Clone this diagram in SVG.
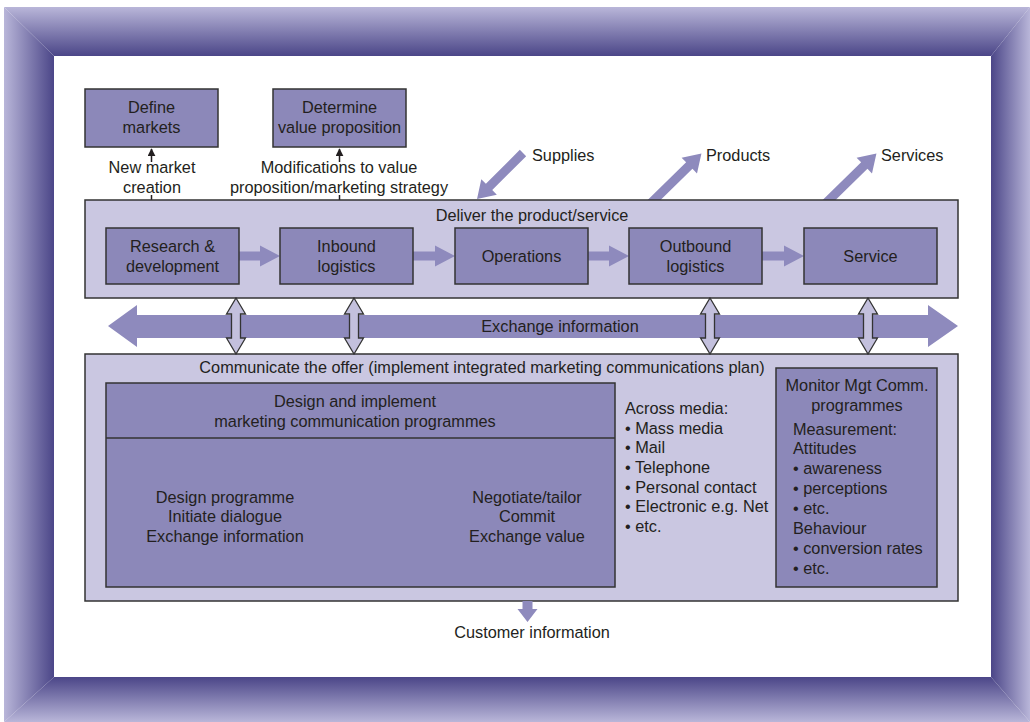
<svg xmlns="http://www.w3.org/2000/svg" width="1030" height="722" viewBox="0 0 1030 722">
<defs>
<linearGradient id="gTop" gradientUnits="userSpaceOnUse" x1="0" y1="7" x2="0" y2="56"><stop offset="0" stop-color="#b9b6d9"/><stop offset="1" stop-color="#4b4688"/></linearGradient>
<linearGradient id="gBot" gradientUnits="userSpaceOnUse" x1="0" y1="722" x2="0" y2="677"><stop offset="0" stop-color="#b9b6d9"/><stop offset="1" stop-color="#4b4688"/></linearGradient>
<linearGradient id="gLeft" gradientUnits="userSpaceOnUse" x1="4" y1="0" x2="54" y2="0"><stop offset="0" stop-color="#b9b6d9"/><stop offset="1" stop-color="#4b4688"/></linearGradient>
<linearGradient id="gRight" gradientUnits="userSpaceOnUse" x1="1030" y1="0" x2="991" y2="0"><stop offset="0" stop-color="#b9b6d9"/><stop offset="1" stop-color="#4b4688"/></linearGradient>
<marker id="ah" viewBox="0 0 10 10" refX="9" refY="5" markerWidth="8" markerHeight="8" markerUnits="userSpaceOnUse" orient="auto"><path d="M0,0 L10,5 L0,10 Z" fill="#231f20"/></marker>
</defs>
<style>
text{font-family:"Liberation Sans",Arial,sans-serif;font-size:16.3px;fill:#231f20}
.c{text-anchor:middle}
.box{fill:#8c88b9;stroke:#333;stroke-width:1.5}
.cont{fill:#cac7e1;stroke:#333;stroke-width:1.5}
.fa{fill:#8e8abd}
.va{fill:#c3c0dd;stroke:#333;stroke-width:1.3}
.ln{stroke:#231f20;stroke-width:1.5;fill:none}
</style>
<g id="frame">
<rect x="0" y="0" width="1030" height="722" fill="#fff"/>
<polygon points="4,7 1030,7 991,56 54,56" fill="url(#gTop)"/>
<polygon points="4,722 54,677 991,677 1030,722" fill="url(#gBot)"/>
<polygon points="4,7 54,56 54,677 4,722" fill="url(#gLeft)"/>
<polygon points="1030,7 1030,722 991,677 991,56" fill="url(#gRight)"/>
</g>
<g id="connectors">
<line class="ln" x1="151.5" y1="162" x2="151.5" y2="149" marker-end="url(#ah)"/>
<line class="ln" x1="151.5" y1="195" x2="151.5" y2="200"/>
<line class="ln" x1="339.5" y1="162" x2="339.5" y2="149" marker-end="url(#ah)"/>
<line class="ln" x1="339.5" y1="195" x2="339.5" y2="200"/>
<path class="fa" d="M0,-4.5 H48 V-11 L65,0 L48,11 V4.5 H0 Z" transform="translate(523,153) rotate(135)"/>
<path class="fa" d="M0,-4.5 H55 V-11 L72,0 L55,11 V4.5 H0 Z" transform="translate(650,204) rotate(-44.4)"/>
<path class="fa" d="M0,-4.5 H55 V-11 L72,0 L55,11 V4.5 H0 Z" transform="translate(825,204) rotate(-44.4)"/>
</g>
<g id="deliver">
<rect class="cont" x="85" y="200" width="873" height="98"/>
<text class="c" x="532" y="221">Deliver the product/service</text>
</g>
<g id="define-markets">
<rect class="box" x="85" y="89" width="133" height="58"/>
<text class="c" x="151.5" y="113">Define</text>
<text class="c" x="151.5" y="133">markets</text>
</g>
<g id="value-proposition">
<rect class="box" x="273" y="89" width="133" height="58"/>
<text class="c" x="339.5" y="113">Determine</text>
<text class="c" x="339.5" y="133">value proposition</text>
</g>
<g id="labels-top">
<text class="c" x="152" y="173">New market</text>
<text class="c" x="152" y="193">creation</text>
<text class="c" x="339" y="173">Modifications to value</text>
<text class="c" x="339" y="193">proposition/marketing strategy</text>
<text x="532" y="161">Supplies</text>
<text x="706" y="161">Products</text>
<text x="881" y="161">Services</text>
</g>
<g id="process-arrows">
<path class="fa" d="M0,-4.5 H21 V-10.5 L41,0 L21,10.5 V4.5 H0 Z" transform="translate(239,256)"/>
<path class="fa" d="M0,-4.5 H22 V-10.5 L42,0 L22,10.5 V4.5 H0 Z" transform="translate(413,256)"/>
<path class="fa" d="M0,-4.5 H21 V-10.5 L41,0 L21,10.5 V4.5 H0 Z" transform="translate(588,256)"/>
<path class="fa" d="M0,-4.5 H22 V-10.5 L42,0 L22,10.5 V4.5 H0 Z" transform="translate(762,256)"/>
</g>
<g id="research">
<rect class="box" x="106" y="228" width="133" height="56"/>
<text class="c" x="172.5" y="252">Research &amp;</text>
<text class="c" x="172.5" y="272">development</text>
</g>
<g id="inbound">
<rect class="box" x="280" y="228" width="133" height="56"/>
<text class="c" x="346.5" y="252">Inbound</text>
<text class="c" x="346.5" y="272">logistics</text>
</g>
<g id="operations">
<rect class="box" x="455" y="228" width="133" height="56"/>
<text class="c" x="521.5" y="262">Operations</text>
</g>
<g id="outbound">
<rect class="box" x="629" y="228" width="133" height="56"/>
<text class="c" x="695.5" y="252">Outbound</text>
<text class="c" x="695.5" y="272">logistics</text>
</g>
<g id="service">
<rect class="box" x="804" y="228" width="133" height="56"/>
<text class="c" x="870.5" y="262">Service</text>
</g>
<g id="exchange">
<polygon class="fa" points="108,326 137,305 137,315 928,315 928,305 958,326 928,347 928,338 137,338 137,347"/>
<text class="c" x="560" y="332">Exchange information</text>
</g>
<g id="communicate">
<rect class="cont" x="85" y="354" width="873" height="247"/>
<text class="c" x="482" y="373">Communicate the offer (implement integrated marketing communications plan)</text>
</g>
<g id="vertical-arrows">
<polygon class="va" points="236,298 245.5,314 240.5,314 240.5,338 245.5,338 236,354 226.5,338 231.5,338 231.5,314 226.5,314"/>
<polygon class="va" points="354,298 363.5,314 358.5,314 358.5,338 363.5,338 354,354 344.5,338 349.5,338 349.5,314 344.5,314"/>
<polygon class="va" points="710,298 719.5,314 714.5,314 714.5,338 719.5,338 710,354 700.5,338 705.5,338 705.5,314 700.5,314"/>
<polygon class="va" points="868,298 877.5,314 872.5,314 872.5,338 877.5,338 868,354 858.5,338 863.5,338 863.5,314 858.5,314"/>
</g>
<g id="design">
<rect class="box" x="106" y="383" width="509" height="204"/>
<line x1="106" y1="438" x2="615" y2="438" stroke="#333" stroke-width="1.5"/>
<text class="c" x="355" y="407">Design and implement</text>
<text class="c" x="355" y="427">marketing communication programmes</text>
<text class="c" x="225" y="503">Design programme</text>
<text class="c" x="225" y="522">Initiate dialogue</text>
<text class="c" x="225" y="542">Exchange information</text>
<text class="c" x="527" y="503">Negotiate/tailor</text>
<text class="c" x="527" y="522">Commit</text>
<text class="c" x="527" y="542">Exchange value</text>
</g>
<g id="media">
<text x="625" y="414">Across media:</text>
<text x="625" y="434">• Mass media</text>
<text x="625" y="453">• Mail</text>
<text x="625" y="473">• Telephone</text>
<text x="625" y="493">• Personal contact</text>
<text x="625" y="512">• Electronic e.g. Net</text>
<text x="625" y="532">• etc.</text>
</g>
<g id="monitor">
<rect class="box" x="776" y="368" width="161" height="219"/>
<text class="c" x="857" y="391">Monitor Mgt Comm.</text>
<text class="c" x="857" y="411">programmes</text>
<text x="793" y="435">Measurement:</text>
<text x="793" y="454">Attitudes</text>
<text x="793" y="474">• awareness</text>
<text x="793" y="494">• perceptions</text>
<text x="793" y="514">• etc.</text>
<text x="793" y="534">Behaviour</text>
<text x="793" y="554">• conversion rates</text>
<text x="793" y="574">• etc.</text>
</g>
<g id="customer-info">
<polygon class="fa" points="522.5,601 532.5,601 532.5,609 537.5,609 527.5,622 517.5,609 522.5,609"/>
<text class="c" x="532" y="638">Customer information</text>
</g>
</svg>
